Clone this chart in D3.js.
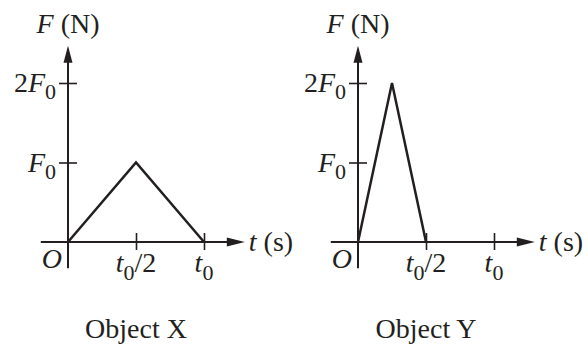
<!DOCTYPE html>
<html>
<head>
<meta charset="utf-8">
<script src="https://cdn.jsdelivr.net/npm/d3@7"></script>
<style>
  body { margin: 0; background: #fff; }
  text { font-family: "Liberation Serif", "Times New Roman", serif; fill: #231f20; }
</style>
</head>
<body>
<div id="chart"></div>
<script>
// data, time in units of t0 and force in units of F0
const panelNames = ['Object X', 'Object Y'];
const timeX = [0, 0.5, 1];
const forceX = [0, 1, 0];
const timeY = [0, 0.25, 0.5];
const forceY = [0, 2, 0];
const forceTicks = [1, 2];
const forceTickCoef = ['', '2'];
const timeTicks = [0.5, 1];
const timeTickSuffix = ['/2', ''];

const W = 588, H = 350,
    ink = '#231f20',
    panelOffsets = [68, 358],
    originY = 242,
    fontSize = 28,
    subSize = 22;

const svg = d3.select('#chart')
    .append('svg')
        .attr('width', W)
        .attr('height', H);

const xScale = d3.scaleLinear().domain([0, 1]).range([0, 136]);
const yScale = d3.scaleLinear().domain([0, 2]).range([0, -159]);

const series = [
    timeX.map((t, i) => ({ t: t, f: forceX[i] })),
    timeY.map((t, i) => ({ t: t, f: forceY[i] }))
];

panelNames.forEach(function(name, p) {
    const g = svg.append('g')
        .attr('transform', `translate(${panelOffsets[p]}, ${originY})`);

    // axes lines
    const xLeft = xScale(-0.2), xRight = xScale(1.3),
        yTop = yScale(2.47), yBottom = yScale(-0.33);

    g.append('line')
        .attr('x1', xLeft).attr('x2', xRight - 8)
        .attr('y1', 0).attr('y2', 0)
        .attr('stroke', ink).attr('stroke-width', 2);
    g.append('line')
        .attr('x1', 0).attr('x2', 0)
        .attr('y1', yBottom).attr('y2', yTop + 8)
        .attr('stroke', ink).attr('stroke-width', 2);

    // arrow heads
    g.append('path')
        .attr('d', `M${xRight},0 L${xRight - 18},-4.5 L${xRight - 18},4.5 Z`)
        .attr('fill', ink);
    g.append('path')
        .attr('d', `M0,${yTop} L-4.5,${yTop + 17} L4.5,${yTop + 17} Z`)
        .attr('fill', ink);

    // y ticks
    const yAxis = g.append('g')
        .call(d3.axisLeft(yScale).tickValues(forceTicks).tickSize(9).tickFormat(''));
    yAxis.select('.domain').remove();
    yAxis.selectAll('line').attr('x1', -9).attr('x2', 9)
        .attr('stroke', ink).attr('stroke-width', 1.6);

    forceTicks.forEach(function(v, i) {
        const txt = g.append('text')
            .attr('x', -12)
            .attr('y', yScale(v) + 9)
            .attr('text-anchor', 'end')
            .attr('font-size', fontSize);
        if (forceTickCoef[i]) txt.append('tspan').text(forceTickCoef[i]);
        txt.append('tspan').attr('font-style', 'italic').text('F');
        txt.append('tspan').attr('font-size', subSize).attr('dy', 7).text('0');
    });

    // x ticks
    const xAxis = g.append('g')
        .call(d3.axisBottom(xScale).tickValues(timeTicks).tickSize(9).tickFormat(''));
    xAxis.select('.domain').remove();
    xAxis.selectAll('line').attr('y1', -9).attr('y2', 8)
        .attr('stroke', ink).attr('stroke-width', 1.6);

    timeTicks.forEach(function(v, i) {
        const txt = g.append('text')
            .attr('x', xScale(v))
            .attr('y', 30)
            .attr('text-anchor', 'middle')
            .attr('font-size', fontSize);
        txt.append('tspan').attr('font-style', 'italic').text('t');
        txt.append('tspan').attr('font-size', subSize).attr('dy', 8).text('0');
        if (timeTickSuffix[i]) txt.append('tspan').attr('dy', -8).text(timeTickSuffix[i]);
    });

    // origin and axis titles
    g.append('text')
        .attr('x', -6).attr('y', 26)
        .attr('text-anchor', 'end')
        .attr('font-size', fontSize)
        .attr('font-style', 'italic')
        .text('O');

    const yTitle = g.append('text')
        .attr('x', 0).attr('y', yTop - 13)
        .attr('text-anchor', 'middle')
        .attr('font-size', fontSize);
    yTitle.append('tspan').attr('font-style', 'italic').text('F');
    yTitle.append('tspan').text(' (N)');

    const xTitle = g.append('text')
        .attr('x', xRight + 4).attr('y', 9)
        .attr('font-size', fontSize);
    xTitle.append('tspan').attr('font-style', 'italic').text('t');
    xTitle.append('tspan').text(' (s)');

    // force curve
    g.append('path')
        .datum(series[p])
        .attr('fill', 'none')
        .attr('stroke', ink)
        .attr('stroke-width', 2.5)
        .attr('stroke-linejoin', 'miter')
        .attr('d', d3.line()
            .x(function(d) { return xScale(d.t); })
            .y(function(d) { return yScale(d.f); })
        );

    // panel caption
    g.append('text')
        .attr('x', xScale(0.5))
        .attr('y', 96)
        .attr('text-anchor', 'middle')
        .attr('font-size', fontSize)
        .text(name);
});
</script>
</body>
</html>
